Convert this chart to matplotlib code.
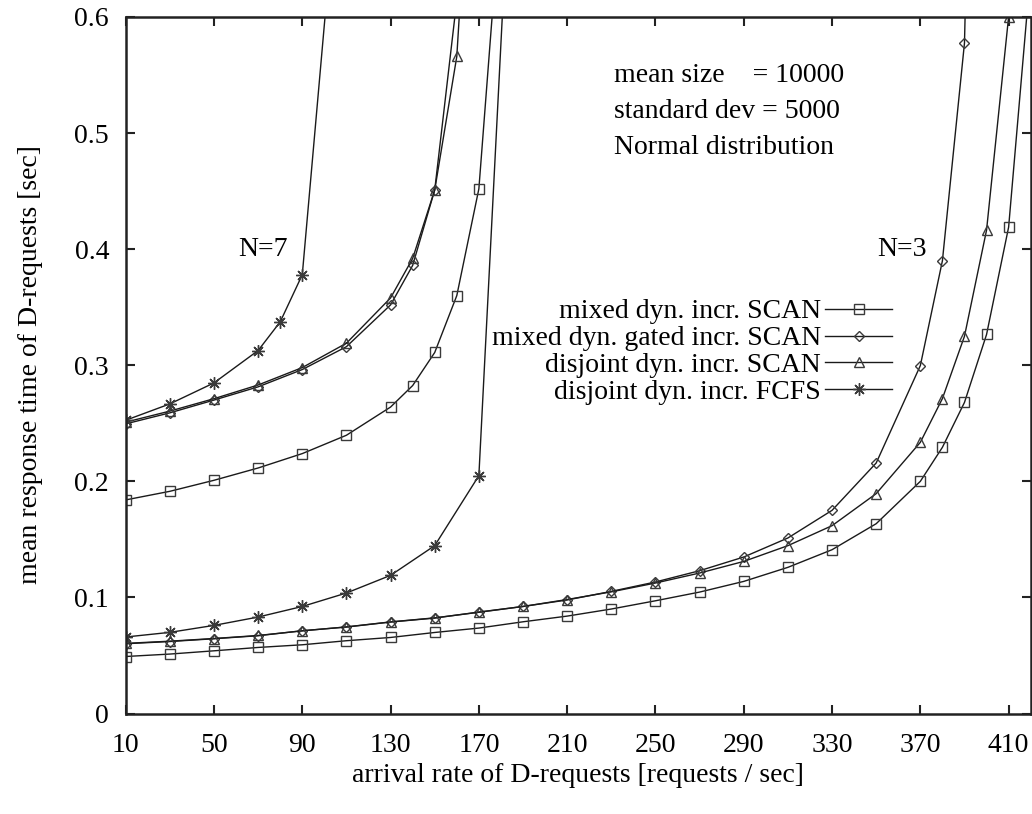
import matplotlib
matplotlib.use("Agg")
import matplotlib.pyplot as plt

plt.rcParams['font.family'] = ['Liberation Serif', 'DejaVu Serif']
plt.rcParams['font.size'] = 20

# ---------------- data ----------------
labels = ["mixed dyn. incr. SCAN", "mixed dyn. gated incr. SCAN",
          "disjoint dyn. incr. SCAN", "disjoint dyn. incr. FCFS"]

# N = 7
x7_mixed = [10, 30, 50, 70, 90, 110, 130, 140, 150, 160, 170, 180]
y7_mixed = [0.184, 0.1914, 0.2009, 0.2115, 0.2239, 0.2397, 0.264, 0.2825, 0.311, 0.360, 0.452, 0.699]

x7_gated = [10, 30, 50, 70, 90, 110, 130, 140, 150, 170]
y7_gated = [0.2495, 0.259, 0.270, 0.2814, 0.2963, 0.316, 0.352, 0.386, 0.451, 0.778]

x7_disj = [10, 30, 50, 70, 90, 110, 130, 140, 150, 160, 170]
y7_disj = [0.251, 0.2605, 0.2712, 0.283, 0.298, 0.319, 0.358, 0.392, 0.451, 0.566, 0.875]

x7_fcfs = [10, 30, 50, 70, 80, 90, 110]
y7_fcfs = [0.2526, 0.2667, 0.2848, 0.3127, 0.3374, 0.378, 0.809]

# N = 3
x3_mixed = [10, 30, 50, 70, 90, 110, 130, 150, 170, 190, 210, 230, 250, 270, 290,
            310, 330, 350, 370, 380, 390, 400, 410, 420]
y3_mixed = [0.0491, 0.0512, 0.054, 0.0569, 0.0592, 0.0627, 0.0655, 0.0698, 0.0736, 0.079,
            0.0839, 0.090, 0.0971, 0.1046, 0.1138, 0.1259, 0.1411, 0.1635, 0.200, 0.2293,
            0.268, 0.3265, 0.419, 0.64]

x3_gated = [10, 30, 50, 70, 90, 110, 130, 150, 170, 190, 210, 230, 250, 270, 290,
            310, 330, 350, 370, 380, 390, 400]
y3_gated = [0.0601, 0.062, 0.0644, 0.067, 0.0713, 0.0745, 0.0788, 0.0822, 0.0874, 0.0922,
            0.0978, 0.1052, 0.1133, 0.123, 0.1348, 0.1512, 0.175, 0.2158, 0.2997, 0.390,
            0.5776, 1.4]

x3_disj = [10, 30, 50, 70, 90, 110, 130, 150, 170, 190, 210, 230, 250, 270, 290,
           310, 330, 350, 370, 380, 390, 400, 410]
y3_disj = [0.0604, 0.0623, 0.0646, 0.0672, 0.0712, 0.0746, 0.0789, 0.0824, 0.0872, 0.0922,
           0.0982, 0.1048, 0.1124, 0.121, 0.131, 0.1446, 0.1618, 0.1894, 0.2336, 0.2713,
           0.325, 0.4164, 0.6003]

x3_fcfs = [10, 30, 50, 70, 90, 110, 130, 150, 170, 190]
y3_fcfs = [0.0659, 0.0699, 0.0759, 0.0831, 0.0922, 0.1038, 0.119, 0.1446, 0.2049, 0.95]

xticks = [10, 50, 90, 130, 170, 210, 250, 290, 330, 370, 410]
yticks = [0, 0.1, 0.2, 0.3, 0.4, 0.5, 0.6]
ytick_labels = ["0", "0.1", "0.2", "0.3", "0.4", "0.5", "0.6"]

# ---------------- figure ----------------
W, H = 1032, 814
fig = plt.figure(figsize=(W / 100, H / 100), dpi=100)
ax = fig.add_axes([125.7 / W, (H - 713.5) / H, (1030.7 - 125.7) / W, (713.5 - 17) / H])

lc = "#1a1a1a"
mc = "#3a3a3a"
styles = [
    dict(marker="s", ms=6.8),
    dict(marker="D", ms=5.0),
    dict(marker="^", ms=7.0),
    dict(marker=(8, 2, 0), ms=9.0),
]
series3 = [(x3_mixed, y3_mixed), (x3_gated, y3_gated), (x3_disj, y3_disj), (x3_fcfs, y3_fcfs)]
series7 = [(x7_mixed, y7_mixed), (x7_gated, y7_gated), (x7_disj, y7_disj), (x7_fcfs, y7_fcfs)]

for (xs, ys), st, lab in zip(series3, styles, labels):
    ax.plot(xs, ys, color=lc, lw=1.0, mfc="none", mec=mc, mew=1.0, label=lab, **st)
for (xs, ys), st in zip(series7, styles):
    ax.plot(xs, ys, color=lc, lw=1.0, mfc="none", mec=mc, mew=1.0, **st)

ax.set_xlim(10, 420)
ax.set_ylim(0, 0.6)
ax.set_xticks(xticks)
ax.set_xticklabels([str(v) for v in xticks])
ax.set_yticks(yticks)
ax.set_yticklabels(ytick_labels)
ax.tick_params(direction="in", length=6.5, width=1.5, top=True, right=True, color="#222222")
ax.tick_params(axis="x", pad=14)
ax.tick_params(axis="y", pad=12)
for s in ax.spines.values():
    s.set_linewidth(1.8)
    s.set_color("#222222")

fig.text(578 / W, 1 - 776 / H, "arrival rate of D-requests [requests / sec]",
         ha="center", va="center", fontsize=20)
fig.text(31 / W, 1 - 365 / H, "mean response time of D-requests [sec]",
         ha="center", va="center", rotation=90, fontsize=20)

fig.text(614 / W, 1 - 75 / H, "mean size    = 10000", ha="left", va="center", fontsize=20)
fig.text(614 / W, 1 - 111 / H, "standard dev = 5000", ha="left", va="center", fontsize=20)
fig.text(614 / W, 1 - 148 / H, "Normal distribution", ha="left", va="center", fontsize=20)
fig.text(238 / W, 1 - 250 / H, "N=7", ha="left", va="center", fontsize=20)
fig.text(877 / W, 1 - 250 / H, "N=3", ha="left", va="center", fontsize=20)

leg = ax.legend(loc="upper right", bbox_to_anchor=(892 / W, 1 - 299 / H),
                bbox_transform=fig.transFigure, frameon=False, markerfirst=False,
                handlelength=2.4, handletextpad=0.15, labelspacing=0.05, borderpad=0,
                borderaxespad=0, fontsize=20)

fig.savefig("out.png", dpi=100)
